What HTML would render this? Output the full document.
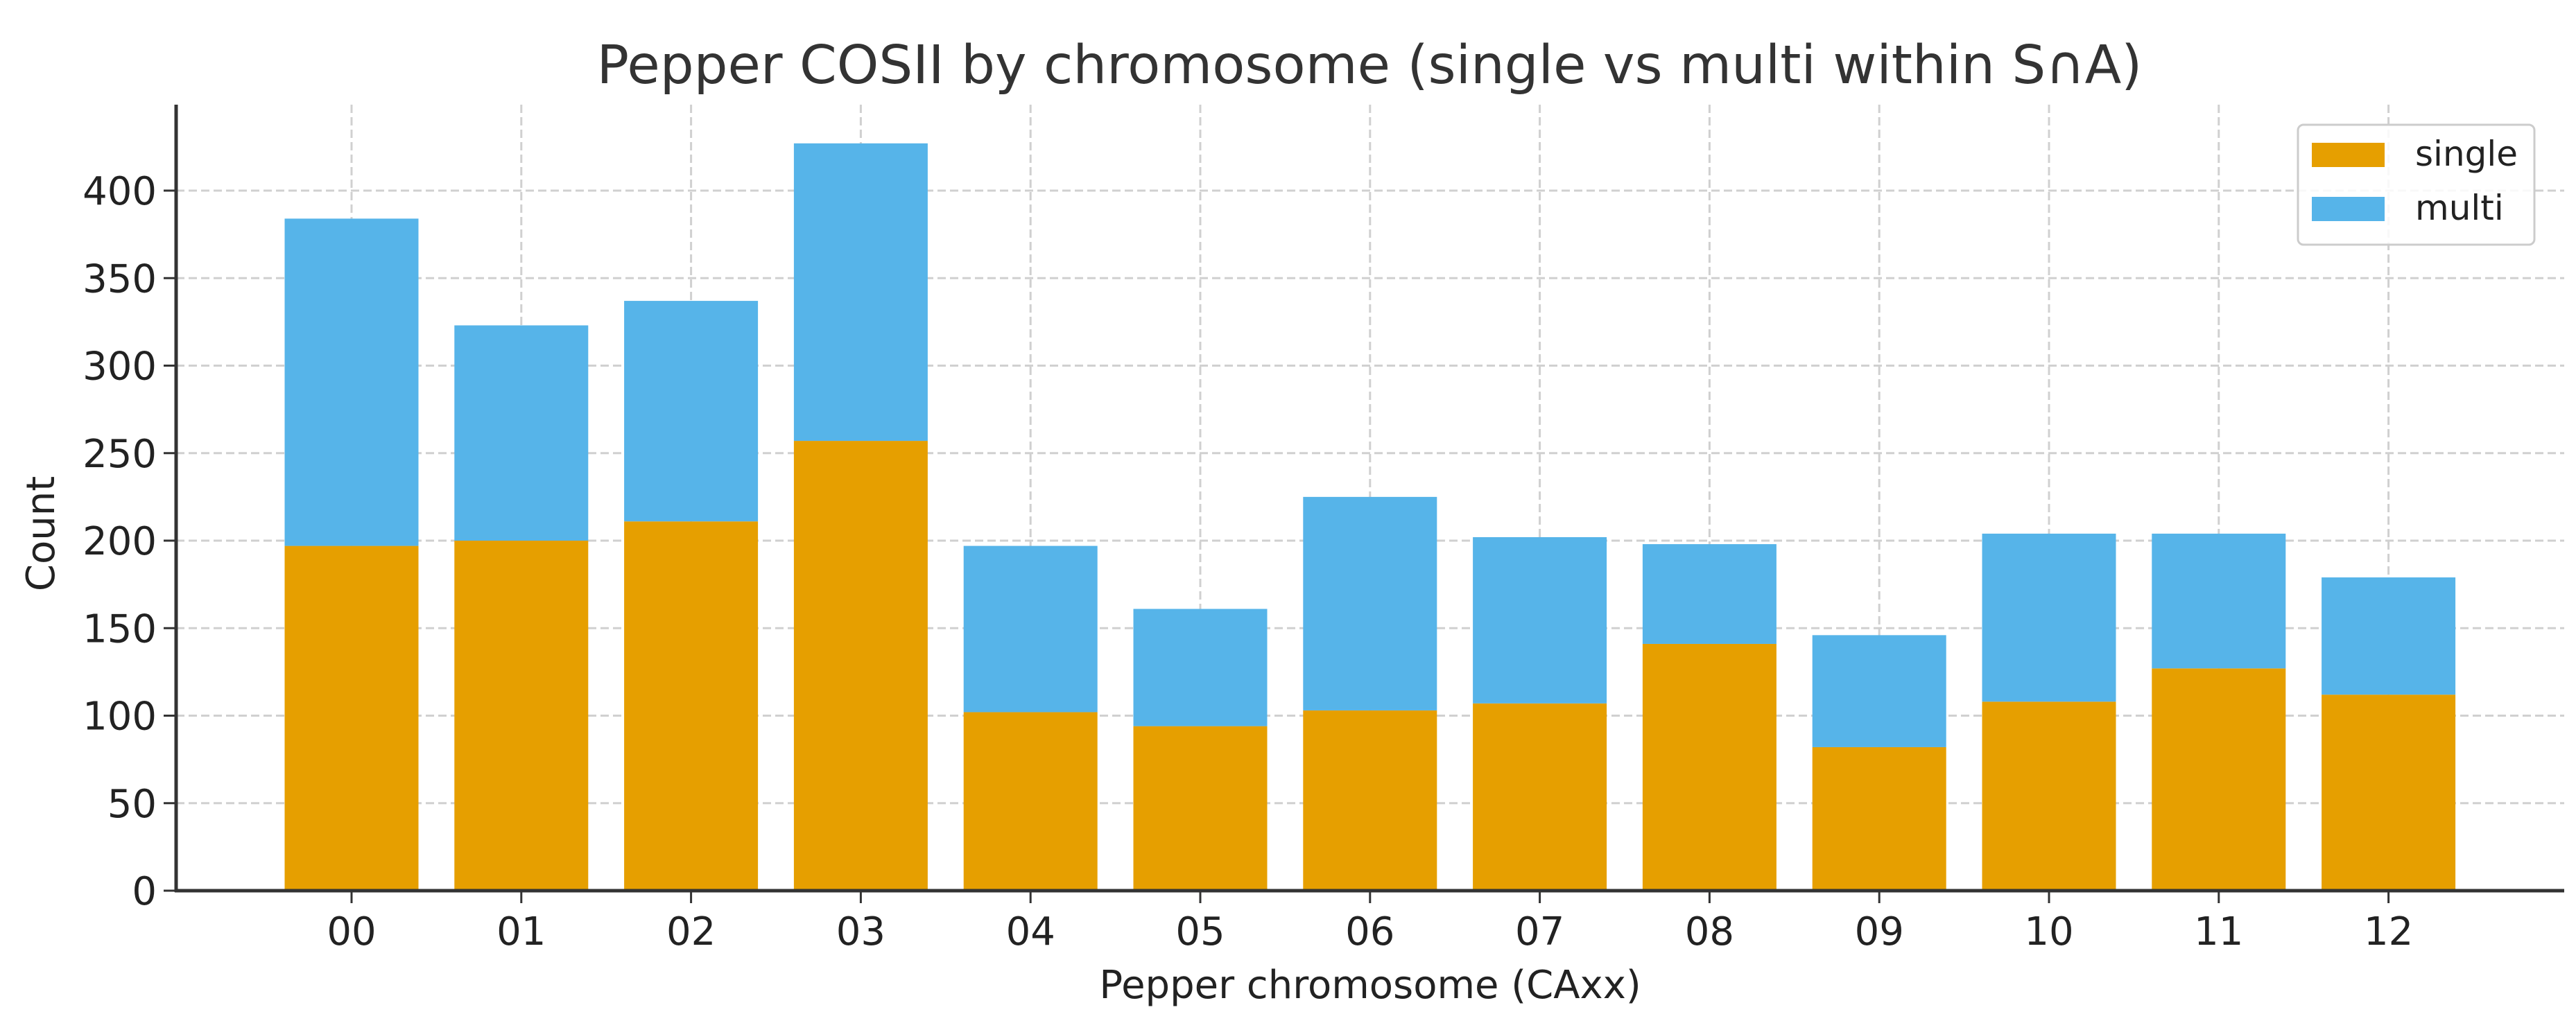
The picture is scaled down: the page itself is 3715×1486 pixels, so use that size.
<!DOCTYPE html>
<html><head><meta charset="utf-8"><style>
html,body{margin:0;padding:0;background:#fff;}
svg{display:block;font-family:"DejaVu Sans","Liberation Sans",sans-serif;}
</style></head><body>
<svg id="chart" width="3715" height="1486" viewBox="0 0 3715 1486" xmlns="http://www.w3.org/2000/svg">
<text x="1975" y="120" font-size="77" fill="#333" text-anchor="middle">Pepper COSII by chromosome (single vs multi within S∩A)</text>
<g id="grid"></g><g id="bars"></g><g id="axes"></g>
<text transform="translate(78,770) rotate(-90)" font-size="56" fill="#222" text-anchor="middle">Count</text>
<text x="1976" y="1440" font-size="56" fill="#222" text-anchor="middle">Pepper chromosome (CAxx)</text>
<g>
<rect x="3314" y="180" width="341" height="173" rx="8" fill="#fff" fill-opacity="0.85" stroke="#ccc" stroke-width="3"/>
<rect x="3334" y="206" width="105" height="35" fill="#E69F00"/>
<text x="3483" y="239" font-size="50" fill="#222">single</text>
<rect x="3334" y="284" width="105" height="35" fill="#56B4E9"/>
<text x="3483" y="317" font-size="50" fill="#222">multi</text>
</g>
</svg>
<script>
const categories = ["00","01","02","03","04","05","06","07","08","09","10","11","12"];
const singleValues = [197,200,211,257,102,94,103,107,141,82,108,127,112];
const multiValues = [187,123,126,170,95,67,122,95,57,64,96,77,67];
const yTicks = [0,50,100,150,200,250,300,350,400];
const NS="http://www.w3.org/2000/svg";
const x0=254,x1=3698,yTop=151,yBase=1285;
const yScale=v=>yBase-v*(1010/400);
const xCenter=i=>507+i*244.8;
const barW=193;
function mk(tag,attrs,parent){const e=document.createElementNS(NS,tag);for(const k in attrs)e.setAttribute(k,attrs[k]);parent.appendChild(e);return e;}
const grid=document.getElementById('grid'),bars=document.getElementById('bars'),axes=document.getElementById('axes');
yTicks.forEach(t=>{const y=yScale(t);
 const g=mk('line',{x1:x0,x2:x1,y1:y,y2:y,stroke:'#d0d0d0','stroke-width':3,'stroke-dasharray':'12,6'},grid);
 
 
 const tk=mk('line',{x1:x0-18,x2:x0,y1:y,y2:y,stroke:'#333','stroke-width':3},axes);
 
 
 const tl=mk('text',{x:x0-28,y:y+20,'font-size':56,fill:'#222','text-anchor':'end'},axes);
 tl.textContent=t;
 
 
});
categories.forEach((c,i)=>{const cx=xCenter(i);
 const g=mk('line',{x1:cx,x2:cx,y1:yTop,y2:yBase,stroke:'#d0d0d0','stroke-width':3,'stroke-dasharray':'12,6'},grid);
 
 
 const s=singleValues[i],m=multiValues[i];
 const b1=mk('rect',{x:cx-barW/2,y:yScale(s),width:barW,height:yBase-yScale(s),fill:'#E69F00'},bars);
 
 
 const b2=mk('rect',{x:cx-barW/2,y:yScale(s+m),width:barW,height:yScale(s)-yScale(s+m),fill:'#56B4E9'},bars);
 
 
 const tk=mk('line',{x1:cx,x2:cx,y1:yBase,y2:yBase+18,stroke:'#333','stroke-width':3},axes);
 
 
 const tl=mk('text',{x:cx,y:yBase+78,'font-size':56,fill:'#222','text-anchor':'middle'},axes);
 tl.textContent=c;
 
 
});
const ya=mk('line',{x1:x0,x2:x0,y1:yTop,y2:yBase+2,stroke:'#333','stroke-width':5},axes);


const xa=mk('line',{x1:x0-2,x2:x1,y1:yBase,y2:yBase,stroke:'#333','stroke-width':5},axes);


</script>
</body></html>
